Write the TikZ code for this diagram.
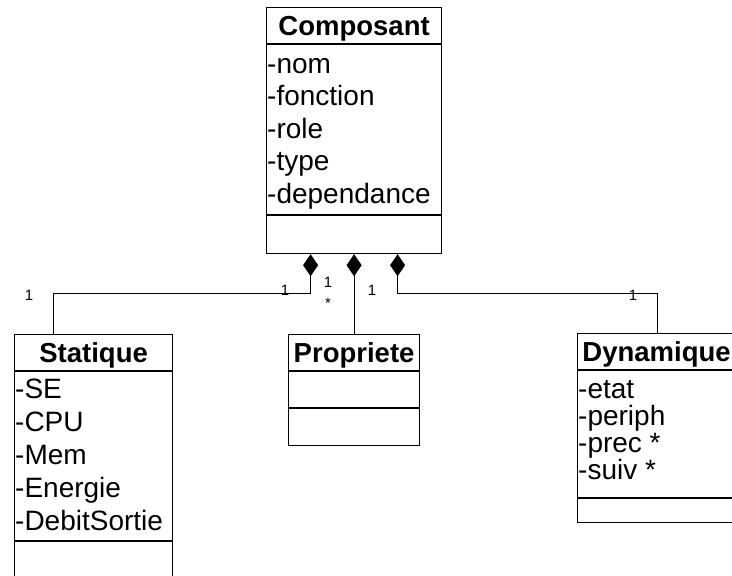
\documentclass[tikz,border=0pt]{standalone}
\usepackage{fontspec}
\setmainfont{Liberation Sans}
\usetikzlibrary{arrows.meta,positioning}

\begin{document}
\begin{tikzpicture}[x=1pt,y=-1pt,
    classe/.style={draw,line width=1.2pt,inner sep=0pt,anchor=north west},
    titre/.style={font=\fontsize{27.5}{32}\selectfont\bfseries,anchor=base,inner sep=0pt},
    attr/.style={font=\fontsize{28}{32}\selectfont,anchor=base west,inner sep=0pt},
    mult/.style={font=\fontsize{15}{17}\selectfont,anchor=base,inner sep=0pt},
    compo/.style={{Diamond[length=22pt,width=15pt]}-,line width=0.9pt}]
  \useasboundingbox (0,0) rectangle (732,576);
  \clip (0,0) rectangle (732,576);

  % classes
  \node[classe,minimum width=175pt,minimum height=246pt] (composant) at (266,7) {};
  \node[classe,minimum width=158pt,minimum height=260pt] (statique) at (14,334) {};
  \node[classe,minimum width=131pt,minimum height=111pt] (propriete) at (288,334) {};
  \node[classe,minimum width=158pt,minimum height=189pt] (dynamique) at (577,333) {};

  % compartiments
  \foreach \c/\d in {composant/208,statique/207,propriete/74,dynamique/165} {
    \draw[line width=1.2pt] ([yshift=-37pt]\c.north west) -- ([yshift=-37pt]\c.north east);
    \draw[line width=1.2pt] ([yshift=-\d pt]\c.north west) -- ([yshift=-\d pt]\c.north east);
  }

  % titres
  \node[titre] (tcomposant) at ([yshift=-28.5pt]composant.north) {Composant};
  \node[titre] (tstatique) at ([yshift=-28pt]statique.north) {Statique};
  \node[titre] (tpropriete) at ([yshift=-28pt]propriete.north) {Propriete};
  \node[titre] (tdynamique) at ([yshift=-28.5pt]dynamique.north) {Dynamique};

  % attributs
  \foreach \a [count=\i] in {-nom,-fonction,-role,-type,-dependance}
    \node[attr] (acomp\i) at (267,{73+32.5*(\i-1)}) {\a};
  \foreach \a [count=\i] in {-SE,-CPU,-Mem,-Energie,-DebitSortie}
    \node[attr] (astat\i) at (15,{398+33*(\i-1)}) {\a};
  \foreach \a [count=\i] in {-etat,-periph,-prec *,-suiv *}
    \node[attr] (adyn\i) at (578,{398+27*(\i-1)}) {\a};

  % compositions
  \draw[compo] ([xshift=-43.5pt]composant.south) -- ++(0,39.5) -| ([xshift=39pt]statique.north west);
  \draw[compo] (composant.south) -- (propriete.north);
  \draw[compo] ([xshift=43.5pt]composant.south) -- ++(0,39.5) -| ([xshift=80pt]dynamique.north west);

  % multiplicites
  \node[mult] (m1) at (29,300) {1};
  \node[mult] (m2) at (285,295) {1};
  \node[mult] (m3) at (328,287) {1};
  \node[mult] (m4) at (328,308) {*};
  \node[mult] (m5) at (372,295) {1};
  \node[mult] (m6) at (633,300) {1};
\end{tikzpicture}
\end{document}
